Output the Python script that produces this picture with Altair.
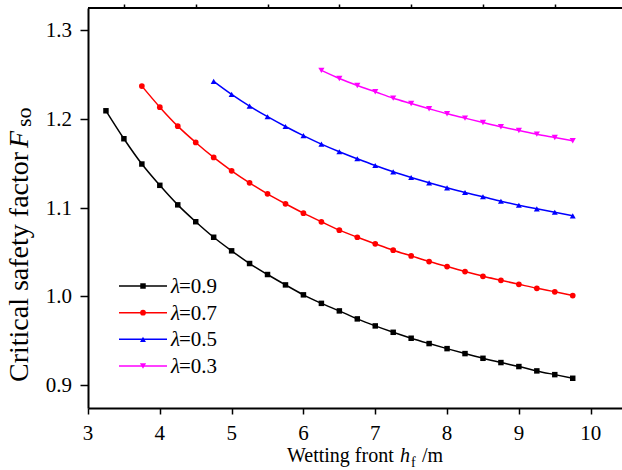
import altair as alt
import pandas as pd

labels = ["λ=0.9", "λ=0.7", "λ=0.5", "λ=0.3"]
label_vals = ["=0.9", "=0.7", "=0.5", "=0.3"]
colors = ["#000000", "#ff0000", "#0000ff", "#ff00ff"]
markers = ["square", "circle", "triangle-up", "triangle-down"]
marker_sizes = [30, 38, 50, 50]

h_09 = [3.25, 3.5, 3.75, 4.0, 4.25, 4.5, 4.75, 5.0, 5.25, 5.5, 5.75, 6.0, 6.25, 6.5,
        6.75, 7.0, 7.25, 7.5, 7.75, 8.0, 8.25, 8.5, 8.75, 9.0, 9.25, 9.5, 9.75]
F_09 = [1.209, 1.1775, 1.149, 1.125, 1.103, 1.084, 1.0665, 1.0512, 1.0369, 1.0245,
        1.0128, 1.0016, 0.992, 0.9835, 0.9745, 0.9666, 0.9594, 0.9527, 0.9467, 0.941,
        0.9354, 0.9301, 0.9253, 0.9208, 0.9159, 0.9117, 0.9076]
h_07 = [3.75, 4.0, 4.25, 4.5, 4.75, 5.0, 5.25, 5.5, 5.75, 6.0, 6.25, 6.5, 6.75, 7.0,
        7.25, 7.5, 7.75, 8.0, 8.25, 8.5, 8.75, 9.0, 9.25, 9.5, 9.75]
F_07 = [1.2368, 1.2131, 1.1917, 1.1733, 1.1564, 1.1414, 1.1278, 1.1154, 1.1042, 1.0936,
        1.0839, 1.0745, 1.0665, 1.0591, 1.0519, 1.0455, 1.0391, 1.0335, 1.0278, 1.0225,
        1.018, 1.0135, 1.009, 1.005, 1.0008]
h_05 = [4.75, 5.0, 5.25, 5.5, 5.75, 6.0, 6.25, 6.5, 6.75, 7.0, 7.25, 7.5, 7.75, 8.0,
        8.25, 8.5, 8.75, 9.0, 9.25, 9.5, 9.75]
F_05 = [1.2421, 1.2274, 1.2142, 1.2023, 1.1913, 1.181, 1.1714, 1.1628, 1.1549, 1.1473,
        1.1402, 1.1338, 1.1278, 1.1222, 1.1169, 1.1121, 1.1071, 1.1026, 1.0985, 1.0947,
        1.0906]
h_03 = [6.25, 6.5, 6.75, 7.0, 7.25, 7.5, 7.75, 8.0, 8.25, 8.5, 8.75, 9.0, 9.25, 9.5, 9.75]
F_03 = [1.2545, 1.2454, 1.2375, 1.2304, 1.2232, 1.2172, 1.2113, 1.2056, 1.2007, 1.1958,
        1.191, 1.1868, 1.1826, 1.1789, 1.1752]

x_major = [3, 4, 5, 6, 7, 8, 9, 10]
x_major_labels = ["3", "4", "5", "6", "7", "8", "9", "10"]
x_minor = [3.5, 4.5, 5.5, 6.5, 7.5, 8.5, 9.5]
y_major = [0.9, 1.0, 1.1, 1.2, 1.3]
y_major_labels = ["0.9", "1.0", "1.1", "1.2", "1.3"]
y_minor = [0.95, 1.05, 1.15, 1.25]

rows = []
for lab, hs, fs in zip(labels, [h_09, h_07, h_05, h_03], [F_09, F_07, F_05, F_03]):
    for h, f in zip(hs, fs):
        rows.append({"h": h, "F": f, "series": lab})
df = pd.DataFrame(rows)
one = pd.DataFrame({"t": [0]})
leg_df = pd.DataFrame({"series": labels, "val": label_vals})
xt_df = pd.DataFrame({"v": x_major, "lab": x_major_labels})
yt_df = pd.DataFrame({"v": y_major, "lab": y_major_labels})

W, H = 534, 400
FONT = "Liberation Serif"
NUMFONT = "Liberation Serif, 'Times New Roman', serif"
xs = alt.Scale(domain=[3, 10.436], nice=False, zero=False)
ys = alt.Scale(domain=[0.8741, 1.3248], nice=False, zero=False)
cscale = alt.Scale(domain=labels, range=colors)
shscale = alt.Scale(domain=labels, range=markers)
szscale = alt.Scale(domain=labels, range=marker_sizes)
# legend rows placed by a point scale over the series names
leg_y = alt.Scale(type="point", domain=labels, range=[278, 358], padding=0)

lines = alt.Chart(df).mark_line(strokeWidth=1.5, interpolate="monotone").encode(
    x=alt.X("h:Q", scale=xs, axis=alt.Axis(values=x_major, labels=False, title=None,
                                           tickSize=6)),
    y=alt.Y("F:Q", scale=ys, axis=alt.Axis(values=y_major, labels=False, title=None,
                                           tickSize=8)),
    color=alt.Color("series:N", scale=cscale, legend=None),
)

points = alt.Chart(df).mark_point(filled=True, opacity=1).encode(
    x=alt.X("h:Q", scale=xs, axis=None),
    y=alt.Y("F:Q", scale=ys, axis=None),
    color=alt.Color("series:N", scale=cscale, legend=None),
    shape=alt.Shape("series:N", scale=shscale, legend=None),
    size=alt.Size("series:N", scale=szscale, legend=None),
)

minor = alt.Chart(df).mark_point(opacity=0).encode(
    x=alt.X("h:Q", scale=xs, axis=alt.Axis(values=x_minor, labels=False, domain=False,
                                           tickSize=4, title=None)),
    y=alt.Y("F:Q", scale=ys, axis=alt.Axis(values=y_minor, labels=False, domain=False,
                                           tickSize=4, title=None)),
)

x_ticklabels = alt.Chart(xt_df).mark_text(
    font=NUMFONT, fontSize=21, align="center", baseline="alphabetic", color="black"
).encode(x=alt.X("v:Q", scale=xs, axis=None), y=alt.value(H + 31.5), text="lab:N")

y_ticklabels = alt.Chart(yt_df).mark_text(
    font=NUMFONT, fontSize=21, align="right", baseline="alphabetic", dy=7, color="black"
).encode(y=alt.Y("v:Q", scale=ys, axis=None), x=alt.value(-16), text="lab:N")

leg_lines = alt.Chart(leg_df).mark_rule(strokeWidth=1.5).encode(
    x=alt.value(31), x2=alt.value(79),
    y=alt.Y("series:N", scale=leg_y, axis=None),
    color=alt.Color("series:N", scale=cscale, legend=None),
)
leg_marks = alt.Chart(leg_df).mark_point(filled=True, opacity=1).encode(
    x=alt.value(55),
    y=alt.Y("series:N", scale=leg_y, axis=None),
    color=alt.Color("series:N", scale=cscale, legend=None),
    shape=alt.Shape("series:N", scale=shscale, legend=None),
    size=alt.Size("series:N", scale=szscale, legend=None),
)
leg_lambda = alt.Chart(leg_df).mark_text(
    text="λ", font=FONT, fontSize=21, fontStyle="italic", align="left",
    baseline="alphabetic", dy=7, color="black"
).encode(x=alt.value(83), y=alt.Y("series:N", scale=leg_y, axis=None))
leg_text = alt.Chart(leg_df).mark_text(
    font=NUMFONT, fontSize=21, align="left", baseline="alphabetic", dy=7, color="black"
).encode(x=alt.value(91), y=alt.Y("series:N", scale=leg_y, axis=None), text="val:N")

top_rule = alt.Chart(one).mark_rule(color="black", strokeWidth=2).encode(
    x=alt.value(0), x2=alt.value(W), y=alt.value(0))


def txt(text, x, y, size, style="normal", angle=0):
    return alt.Chart(one).mark_text(
        text=text, font=FONT, fontSize=size, fontStyle=style, angle=angle,
        align="left", baseline="alphabetic", color="black"
    ).encode(x=alt.value(x), y=alt.value(y))


titles = [
    txt("Wetting front", 199, 453.7, 20),
    txt("h", 312, 453.7, 20, "italic"),
    txt("f", 323, 458.5, 14),
    txt("/m", 334, 453.7, 20),
    txt("Critical safety factor", -60, 374, 28, angle=270),
    txt("F", -60, 140, 28, "italic", angle=270),
    txt("so", -57, 119, 22, angle=270),
]

chart = alt.layer(
    lines, minor, points, x_ticklabels, y_ticklabels,
    leg_lines, leg_marks, leg_lambda, leg_text, top_rule, *titles
).resolve_axis(
    x="independent", y="independent"
).resolve_scale(
    y="independent"
).properties(
    width=W, height=H,
    autosize=alt.AutoSizeParams(type="none"),
    padding={"left": 88, "top": 8, "right": 0, "bottom": 62},
).configure_view(stroke=None).configure_axis(
    grid=False, domainColor="black", domainWidth=2, tickColor="black", tickWidth=1.5,
)

chart.save("out.html", embed_options={"renderer": "svg", "actions": False})
